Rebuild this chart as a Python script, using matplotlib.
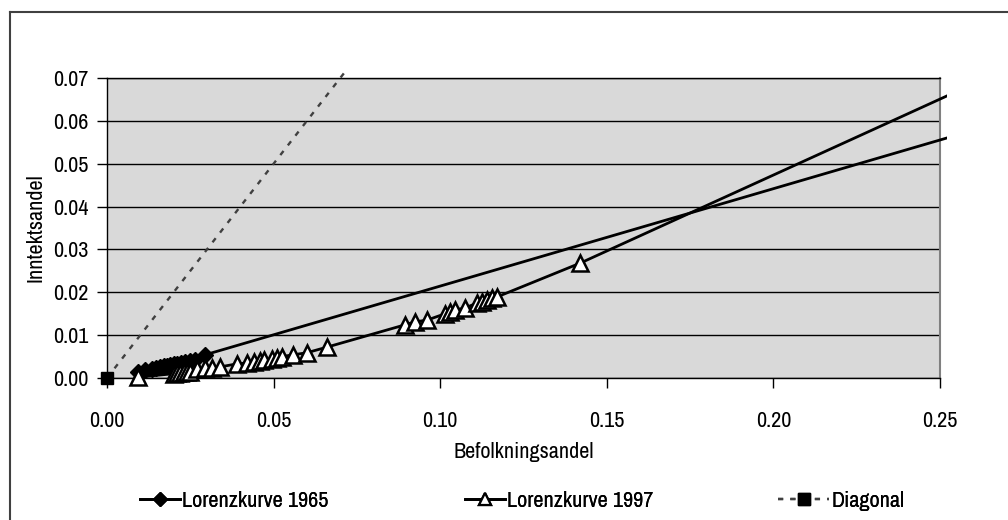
import matplotlib
matplotlib.use("Agg")
import matplotlib.pyplot as plt
from matplotlib import font_manager
from matplotlib.patches import Rectangle
from matplotlib.lines import Line2D

# Lorenz curve points (share of population, share of income)
x_1965 = [0.0093, 0.0115, 0.0135, 0.0148, 0.0160, 0.0170, 0.0180, 0.0190,
          0.0200, 0.0210, 0.0222, 0.0235, 0.0250, 0.0265, 0.0294, 0.30]
y_1965 = [0.0015, 0.0018, 0.0021, 0.0024, 0.0026, 0.0027, 0.0029, 0.0030,
          0.0032, 0.0033, 0.0035, 0.0037, 0.0040, 0.0043, 0.0054, 0.0669]

x_1997 = [0.0093, 0.0200, 0.0210, 0.0220, 0.0230, 0.0240, 0.0250, 0.0270,
          0.0294, 0.0315, 0.0340, 0.0390, 0.0420, 0.0440, 0.0460, 0.0470,
          0.0495, 0.0510, 0.0525, 0.0558, 0.0600, 0.0660, 0.0894, 0.0924,
          0.0960, 0.1015, 0.1030, 0.1044, 0.1074, 0.1110, 0.1125, 0.1140,
          0.1155, 0.1170, 0.1420, 0.30]
y_1997 = [0.0002, 0.0010, 0.0011, 0.0012, 0.0013, 0.0014, 0.0015, 0.0021,
          0.0023, 0.0024, 0.0026, 0.0033, 0.0035, 0.0037, 0.0040, 0.0041,
          0.0044, 0.0046, 0.0050, 0.0054, 0.0059, 0.0072, 0.0124, 0.0131,
          0.0135, 0.0150, 0.0154, 0.0159, 0.0163, 0.0175, 0.0178, 0.0181,
          0.0187, 0.0189, 0.0268, 0.0828]

x_diag = [0.0, 1.0]
y_diag = [0.0, 1.0]

y_ticks = [0.00, 0.01, 0.02, 0.03, 0.04, 0.05, 0.06, 0.07]
x_ticks = [0.00, 0.05, 0.10, 0.15, 0.20, 0.25]
labels = ["Lorenzkurve 1965", "Lorenzkurve 1997", "Diagonal"]

# prefer a plain narrow sans if one is around
family = "Liberation Sans"
skip = ("Mono", "Light", "Thin", "Black", "Bold", "Extra", "Semi", "Medium")
cands = sorted(f.name for f in font_manager.fontManager.ttflist
               if ("Narrow" in f.name or "Condensed" in f.name)
               and not any(s in f.name for s in skip) and f.weight in (400, "normal", "regular"))
for c in cands:
    if "Narrow" in c:
        family = c
        break
else:
    if cands:
        family = cands[0]
plt.rcParams["font.family"] = [family, "DejaVu Sans"]
plt.rcParams["font.size"] = 16

W, H = 1008, 520
fig = plt.figure(figsize=(W / 100, H / 100), dpi=100)
ax = fig.add_axes([107 / W, 1 - 378 / H, 833 / W, 300 / H])
ax.set_facecolor("#d9d9d9")

ax.set_xlim(0, 0.25)
ax.set_ylim(0, 0.07)
ax.set_yticks(y_ticks)
ax.set_xticks(x_ticks)
ax.set_yticklabels([f"{v:.2f}" for v in y_ticks])
ax.set_xticklabels([f"{v:.2f}" for v in x_ticks])
ax.tick_params(direction="out", length=7, width=1, color="black")
ax.tick_params(axis="y", pad=6)
ax.tick_params(axis="x", pad=17)
ax.yaxis.grid(True, color="black", linewidth=1)
ax.set_axisbelow(True)

for side in ["left", "bottom", "top"]:
    ax.spines[side].set_color("black")
    ax.spines[side].set_linewidth(1)
ax.spines["right"].set_color("#808080")
ax.spines["right"].set_linewidth(1.5)

# lines and markers may spill a few pixels past the plot area
clip = Rectangle((-8 / 833, -8 / 300), 1 + 15 / 833, 1 + 15 / 300,
                 transform=ax.transAxes, visible=False)
ax.add_patch(clip)

diag, = ax.plot(x_diag, y_diag, color="#404040", linewidth=1.7,
                linestyle=(0, (2.2, 3)), marker="s", markersize=9,
                markerfacecolor="black", markeredgecolor="black", zorder=3)
l65, = ax.plot(x_1965, y_1965, color="black", linewidth=2, marker="D",
               markersize=8, markerfacecolor="black", markeredgecolor="black",
               zorder=4)
l97, = ax.plot(x_1997, y_1997, color="black", linewidth=2, marker="^",
               markersize=11, markerfacecolor="white", markeredgecolor="black",
               markeredgewidth=1.8, zorder=5)
for ln in (diag, l65, l97):
    ln.set_clip_path(clip)

ax.set_xlabel("Befolkningsandel", labelpad=8)
ax.set_ylabel("Inntektsandel", labelpad=6)

handles = [
    Line2D([], [], color="black", linewidth=2, marker="D", markersize=7,
           markerfacecolor="black"),
    Line2D([], [], color="black", linewidth=2, marker="^", markersize=8,
           markerfacecolor="white", markeredgewidth=1.6),
    Line2D([], [], color="#404040", linewidth=1.7, linestyle=(0, (2.2, 3)),
           marker="s", markersize=8, markerfacecolor="black",
           markeredgecolor="black"),
]
# one legend entry per slot along the bottom
for h, lab, x0, hl in zip(handles, labels, [140, 465, 778], [1.8, 1.8, 2.3]):
    fig.add_artist(fig.legend([h], [lab], loc="center left",
                              bbox_to_anchor=(x0 / W, 1 - 501 / H),
                              frameon=False, handlelength=hl,
                              handletextpad=0.1, borderpad=0,
                              borderaxespad=0))

# chart area border
fig.add_artist(Line2D([10 / W, 10 / W], [0, 1 - 12 / H], color="#404040",
                      linewidth=1.5, transform=fig.transFigure))
fig.add_artist(Line2D([10 / W, 1], [1 - 12 / H, 1 - 12 / H], color="#404040",
                      linewidth=1.5, transform=fig.transFigure))

fig.savefig("out.png", dpi=100)
